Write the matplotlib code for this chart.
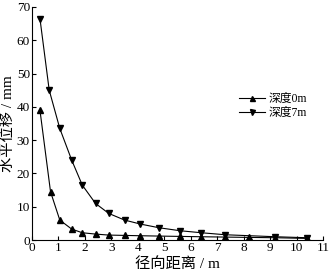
import matplotlib
matplotlib.use("Agg")
import matplotlib.pyplot as plt

plt.rcParams['font.family'] = ['Liberation Serif', 'Noto Sans CJK SC']
plt.rcParams['axes.unicode_minus'] = False

# depth 0 m
x0 = [0.3, 0.7, 1.05, 1.5, 1.9, 2.4, 2.9, 3.5, 4.1, 4.8, 5.6, 6.4, 7.3, 8.2, 9.2, 10.4]
y0 = [39, 14.5, 6.0, 3.3, 2.2, 1.8, 1.5, 1.4, 1.3, 1.2, 1.1, 1.0, 0.9, 0.8, 0.7, 0.5]
# depth 7 m
x7 = [0.3, 0.65, 1.05, 1.5, 1.9, 2.4, 2.9, 3.5, 4.1, 4.8, 5.6, 6.4, 7.3, 9.2, 10.4]
y7 = [66.5, 45, 33.5, 24, 16.5, 11, 8, 6, 4.8, 3.7, 2.8, 2.2, 1.6, 1.0, 0.7]

fig = plt.figure(figsize=(3.3, 2.75), dpi=100)
ax = fig.add_axes([0.097, 0.127, 0.882, 0.848])

ax.plot(x0, y0, color='black', lw=0.8, marker='^', ms=4.5, label='深度0m')
ax.plot(x7, y7, color='black', lw=0.8, marker='v', ms=4.5, label='深度7m')

ax.set_xlim(0, 11)
ax.set_ylim(0, 70)
ax.set_xticks(range(0, 12))
ax.set_yticks(range(0, 71, 10))
ax.spines['top'].set_visible(False)
ax.spines['right'].set_visible(False)
ax.tick_params(direction='in', labelsize=9.5, length=3, pad=1.5)

ax.set_xlabel('径向距离 / m', fontsize=11, labelpad=2)
ax.set_ylabel('水平位移 / mm', fontsize=11, labelpad=1)

ax.legend(loc='upper left', bbox_to_anchor=(0.675, 0.675), frameon=False,
          fontsize=8.5, handlelength=2.2, labelspacing=0.15, handletextpad=0.3,
          markerscale=0.8)

fig.savefig('out.png', dpi=100)
